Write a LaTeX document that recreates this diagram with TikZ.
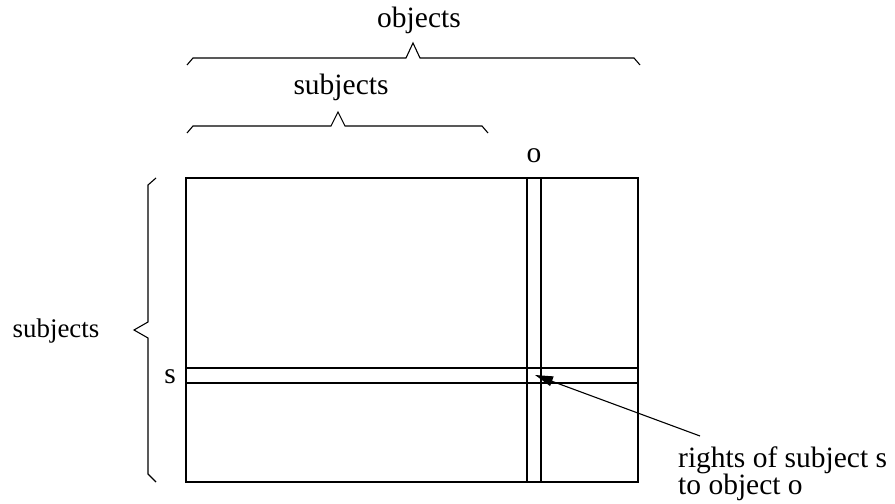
\documentclass[tikz,border=0pt]{standalone}
\usepackage{fontspec}
\setmainfont{Liberation Serif}
\usetikzlibrary{arrows.meta}
\begin{document}
\begin{tikzpicture}[x=1bp,y=-1bp,
  ln/.style={line width=1.1bp,black},
  bracestyle/.style={line width=1.1bp,black,line join=miter},
  lbl/.style={inner sep=0pt,anchor=base,font=\fontsize{29.6}{29}\selectfont},
  lblsmall/.style={inner sep=0pt,anchor=base,font=\fontsize{27}{27}\selectfont},
  arr/.style={line width=1.1bp,-{Triangle[length=18bp,width=10bp]}}]
\useasboundingbox (0,0) rectangle (895,504);
% matrix
\draw[ln] (186,178) rectangle (638,482);
\draw[ln] (527,178) -- (527,482);
\draw[ln] (541,178) -- (541,482);
\draw[ln] (186,368) -- (638,368);
\draw[ln] (186,383) -- (638,383);
% braces
\draw[bracestyle] (187,65) -- (193,58) -- (406,58) -- (413,43) -- (420,58) -- (634,58) -- (640,65);
\draw[bracestyle] (187,133) -- (193,126) -- (331,126) -- (338,112) -- (345,126) -- (482,126) -- (488,133);
\draw[bracestyle] (156,178) -- (148,185) -- (148,322) -- (134,330) -- (148,338) -- (148,474) -- (156,482);
% labels
\node[lbl] (objlbl) at (419,28) {objects};
\node[lbl] (subjtop) at (341,95) {subjects};
\node[lblsmall] (subjleft) at (56,338) {subjects};
\node[lbl] (olbl) at (534,163) {o};
\node[lbl] (slbl) at (170,383) {s};
\node[inner sep=0pt,anchor=base west,align=left,font=\fontsize{29.6}{27.5}\selectfont] (rights) at (678,494.5) {rights of subject s\\to object o};
\coordinate (cell) at (535,375);
\coordinate (arrstart) at (700,436);
\draw[arr] (arrstart) -- (cell);
\end{tikzpicture}
\end{document}
